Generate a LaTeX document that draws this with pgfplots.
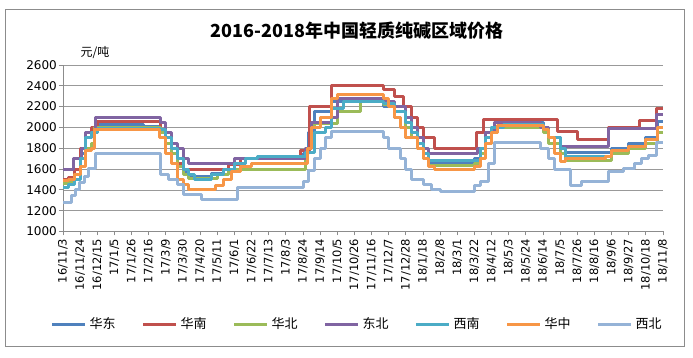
\documentclass[border=0pt]{standalone}
\usepackage{pgfplots}
\pgfplotsset{compat=1.18}
\usepackage{fontspec}
\setmainfont{DejaVu Sans}
\newfontfamily\cjk{Noto Sans CJK SC}
\definecolor{cHD}{HTML}{4F81BD}
\definecolor{cHN}{HTML}{C0504D}
\definecolor{cHB}{HTML}{9BBB59}
\definecolor{cDB}{HTML}{8064A2}
\definecolor{cXN}{HTML}{4BACC6}
\definecolor{cHZ}{HTML}{F79646}
\definecolor{cXB}{HTML}{95B3D7}
\begin{document}
\begin{tikzpicture}
\useasboundingbox (0pt,0pt) rectangle (693pt,358pt);
\draw[black!45, line width=0.8pt] (5pt,12pt) rectangle (684pt,349pt);
\node[font=\cjk\bfseries\fontsize{18}{20}\selectfont] at (357pt,327pt) {2016-2018年中国轻质纯碱区域价格};
\node[font=\cjk\fontsize{12}{14}\selectfont] at (95pt,305pt) {元/吨};
\begin{axis}[
  at={(63pt,126.5pt)}, anchor=south west,
  scale only axis, width=600pt, height=166.5pt,
  xmin=0, xmax=105, ymin=1000, ymax=2600,
  axis x line=bottom, axis y line=left,
  axis line style={-, black!45, line width=0.8pt},
  tick style={black!45, line width=0.8pt},
  tick align=outside, major tick length=4pt,
  xtick={0,3,...,105},
  xticklabels={16/11/3,16/11/24,16/12/15,17/1/5,17/1/26,17/2/16,17/3/9,17/3/30,17/4/20,17/5/11,17/6/1,17/6/22,17/7/13,17/8/3,17/8/24,17/9/14,17/10/5,17/10/26,17/11/16,17/12/7,17/12/28,18/1/18,18/2/8,18/3/1,18/3/22,18/4/12,18/5/3,18/5/24,18/6/14,18/7/5,18/7/26,18/8/16,18/9/6,18/9/27,18/10/18,18/11/8},
  xticklabel style={rotate=90, anchor=east, font=\fontsize{11.5}{13}\selectfont, inner xsep=3pt, inner ysep=1pt},
  ytick={1000,1200,...,2600},
  yticklabel style={font=\fontsize{12}{14}\selectfont, inner sep=2pt},
  /pgf/number format/assume math mode=true,
  /pgf/number format/1000 sep={},
  ymajorgrids, grid style={black!40, line width=0.7pt},
  const plot, no marks,
  every axis plot/.append style={line width=3pt, line join=round},
  legend columns=7,
  legend style={at={(0.49,-0.556)}, anchor=center, draw=none, fill=none,
    font=\cjk\fontsize{13}{15}\selectfont,
    /tikz/every odd column/.append style={column sep=1pt},
    /tikz/every even column/.append style={column sep=24pt}},
  legend image code/.code={\draw[#1, line width=3pt] (0pt,0pt) -- (33pt,0pt);},
]
\addplot[cHD] coordinates {(0,1460)(1,1480)(2,1550)(3,1750)(4,1900)(5,1950)(6,2030)(14,2010)(17,1950)(18,1850)(19,1750)(20,1650)(21,1580)(22,1530)(26,1560)(28,1600)(30,1650)(32,1700)(42,1750)(43,1950)(44,2150)(47,2250)(56,2200)(58,2100)(59,2000)(60,1900)(62,1800)(63,1700)(64,1660)(72,1700)(73,1800)(74,1900)(75,2000)(77,2050)(84,2000)(85,1900)(87,1800)(88,1760)(95,1760)(96,1800)(99,1850)(102,1900)(104,2060)(105,2060)};
\addlegendentry{华东}
\addplot[cHN] coordinates {(0,1500)(1,1520)(2,1600)(3,1800)(4,1900)(5,2000)(6,2060)(17,1980)(18,1850)(19,1750)(20,1650)(21,1600)(29,1640)(31,1700)(41.5,1780)(43.2,2200)(47,2400)(56,2360)(58,2300)(59.5,2200)(61,2100)(62,2000)(63,1900)(65,1800)(72.4,1950)(73.6,2080)(86.6,1960)(90,1880)(95.4,2000)(100.9,2070)(103.8,2180)(105,2180)};
\addlegendentry{华南}
\addplot[cHB] coordinates {(0,1460)(1,1480)(2,1550)(3,1700)(4,1800)(5,1850)(5.5,2000)(17,1950)(18,1850)(19,1750)(20,1620)(21,1550)(22,1510)(27,1550)(29,1600)(42.5,1800)(43.5,2000)(44,2040)(48,2150)(52,2250)(56,2220)(58,2150)(60,2000)(61,1900)(62,1800)(63,1700)(64,1630)(72,1650)(73,1750)(74,1850)(75,1950)(76,2000)(84,1950)(85,1850)(87,1750)(88,1680)(95,1680)(96,1750)(99,1800)(102,1850)(104,1950)(105,1950)};
\addlegendentry{华北}
\addplot[cDB] coordinates {(0,1600)(1.8,1700)(3.3,1800)(3.9,1950)(5.6,2100)(17,2050)(18,1950)(19,1850)(20,1800)(21,1700)(22,1650)(30,1700)(42.5,1800)(43.5,2050)(47,2100)(48,2280)(56,2250)(58,2200)(60,2100)(61,2000)(62,1900)(63,1800)(64,1750)(72.5,1800)(74,1950)(75.5,2050)(83.5,2000)(85,1900)(87,1820)(95.4,1990)(103.8,2120)(105,2120)};
\addlegendentry{东北}
\addplot[cXN] coordinates {(0,1420)(1,1450)(2,1500)(3,1700)(4,1900)(5,1950)(6,1990)(17,1980)(18,1900)(19,1800)(20,1700)(21,1600)(22,1550)(23,1500)(25,1500)(26,1550)(28,1600)(30,1650)(32,1700)(34,1720)(42.5,1760)(44,1950)(46,2000)(47,2180)(49,2250)(56,2230)(58,2150)(60,2050)(61,1950)(62,1850)(63,1750)(64,1680)(72,1680)(73,1800)(74,1900)(75,2000)(77,2030)(84,1980)(85,1900)(87,1800)(88,1720)(95,1720)(96,1780)(99,1820)(102,1880)(104,2000)(105,2000)};
\addlegendentry{西南}
\addplot[cHZ] coordinates {(0,1490)(1,1500)(2,1550)(3,1620)(4,1780)(5,1800)(5.5,1980)(16.8,1900)(18,1750)(19,1650)(20,1500)(21,1450)(22,1400)(26.6,1440)(28,1500)(29.5,1575)(31,1620)(33,1650)(42.7,1800)(43.5,2000)(45,2100)(47,2280)(48,2320)(56,2280)(57,2200)(58,2100)(59,2000)(60,1900)(62,1800)(63,1700)(64,1620)(65,1600)(72,1620)(73,1700)(74,1850)(75,1950)(76,2020)(84,1980)(85,1900)(86,1750)(87,1670)(88,1700)(95,1720)(96,1780)(99,1820)(102,1880)(104,2000)(105,2000)};
\addlegendentry{华中}
\addplot[cXB] coordinates {(0,1280)(1.5,1350)(2.2,1400)(2.9,1470)(3.8,1530)(4.5,1610)(5.6,1750)(17,1550)(18.5,1500)(20,1450)(21,1360)(24.3,1310)(30.6,1420)(42,1480)(43,1590)(44,1700)(45,1800)(46,1900)(47,1960)(56,1900)(57,1800)(59,1700)(60,1600)(61,1500)(63,1450)(64.5,1400)(66,1380)(72,1440)(73,1480)(74.5,1650)(75.5,1860)(83.5,1800)(85,1700)(86,1600)(88.8,1440)(90.8,1480)(95.5,1575)(98.1,1610)(100,1650)(101.3,1700)(102.5,1735)(103.9,1860)(105,1860)};
\addlegendentry{西北}
\end{axis}
\end{tikzpicture}
\end{document}
